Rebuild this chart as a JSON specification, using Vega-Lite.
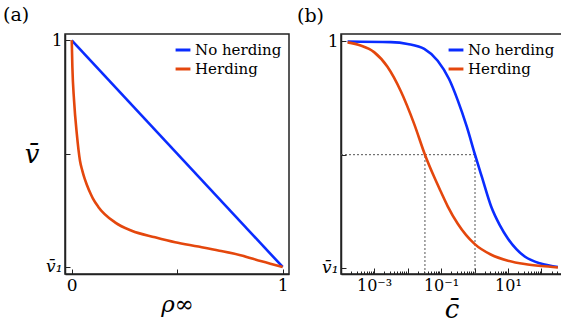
{
  "$schema": "https://vega.github.io/schema/vega-lite/v6.json",
  "background": "white",
  "padding": {"left": 2, "top": 5, "right": 2, "bottom": 0},
  "spacing": 6,
  "config": {
    "font": "DejaVu Serif",
    "view": {"stroke": "#222", "strokeWidth": 1.5},
    "axis": {"domainColor": "#222", "domainWidth": 1.5, "tickColor": "#222", "tickWidth": 1, "labelColor": "black", "labelFontSize": 17, "labelFont": "DejaVu Serif", "grid": false, "titleFont": "DejaVu Serif", "titleFontWeight": "normal", "titleColor": "black"},
    "legend": {"orient": "top-right", "offset": 7, "padding": 0, "rowPadding": 2, "symbolType": "stroke", "symbolStrokeWidth": 3, "symbolSize": 220, "labelFont": "DejaVu Serif", "labelFontSize": 15, "labelColor": "black", "title": null, "labelLimit": 200, "labelOffset": 3},
    "title": {"font": "DejaVu Serif", "fontSize": 19, "fontWeight": "normal", "color": "black", "anchor": "start", "frame": "group"}
  },
  "datasets": {
    "left": [
      {"series": "No herding", "rho": 0, "v": 1},
      {"series": "No herding", "rho": 1, "v": 0},
      {"series": "Herding", "rho": 0, "v": 1},
      {"series": "Herding", "rho": 0.003, "v": 0.881},
      {"series": "Herding", "rho": 0.011, "v": 0.734},
      {"series": "Herding", "rho": 0.024, "v": 0.587},
      {"series": "Herding", "rho": 0.039, "v": 0.469},
      {"series": "Herding", "rho": 0.05, "v": 0.425},
      {"series": "Herding", "rho": 0.06, "v": 0.393},
      {"series": "Herding", "rho": 0.071, "v": 0.364},
      {"series": "Herding", "rho": 0.09, "v": 0.322},
      {"series": "Herding", "rho": 0.1, "v": 0.303},
      {"series": "Herding", "rho": 0.126, "v": 0.265},
      {"series": "Herding", "rho": 0.205, "v": 0.197},
      {"series": "Herding", "rho": 0.284, "v": 0.16},
      {"series": "Herding", "rho": 0.395, "v": 0.131},
      {"series": "Herding", "rho": 0.49, "v": 0.109},
      {"series": "Herding", "rho": 0.6, "v": 0.09},
      {"series": "Herding", "rho": 0.7, "v": 0.072},
      {"series": "Herding", "rho": 0.8, "v": 0.052},
      {"series": "Herding", "rho": 0.9, "v": 0.025},
      {"series": "Herding", "rho": 1, "v": 0}
    ],
    "right": [
      {"series": "No herding", "c": 0.0001622, "v": 1.0},
      {"series": "No herding", "c": 0.003162, "v": 0.997},
      {"series": "No herding", "c": 0.01, "v": 0.989},
      {"series": "No herding", "c": 0.03162, "v": 0.967},
      {"series": "No herding", "c": 0.0794, "v": 0.915},
      {"series": "No herding", "c": 0.1738, "v": 0.834},
      {"series": "No herding", "c": 0.3162, "v": 0.74},
      {"series": "No herding", "c": 0.5848, "v": 0.625},
      {"series": "No herding", "c": 1.035, "v": 0.5},
      {"series": "No herding", "c": 1.641, "v": 0.404},
      {"series": "No herding", "c": 3.162, "v": 0.27},
      {"series": "No herding", "c": 5.623, "v": 0.19},
      {"series": "No herding", "c": 10, "v": 0.129},
      {"series": "No herding", "c": 17.78, "v": 0.083},
      {"series": "No herding", "c": 31.62, "v": 0.05},
      {"series": "No herding", "c": 100, "v": 0.018},
      {"series": "No herding", "c": 309, "v": 0.004},
      {"series": "Herding", "c": 0.0001622, "v": 0.996},
      {"series": "Herding", "c": 0.000398, "v": 0.982},
      {"series": "Herding", "c": 0.001, "v": 0.953},
      {"series": "Herding", "c": 0.002512, "v": 0.888},
      {"series": "Herding", "c": 0.00631, "v": 0.78},
      {"series": "Herding", "c": 0.01585, "v": 0.635},
      {"series": "Herding", "c": 0.03311, "v": 0.5},
      {"series": "Herding", "c": 0.0631, "v": 0.4},
      {"series": "Herding", "c": 0.1, "v": 0.335},
      {"series": "Herding", "c": 0.1585, "v": 0.272},
      {"series": "Herding", "c": 0.3162, "v": 0.195},
      {"series": "Herding", "c": 1, "v": 0.106},
      {"series": "Herding", "c": 3.162, "v": 0.058},
      {"series": "Herding", "c": 10, "v": 0.032},
      {"series": "Herding", "c": 31.62, "v": 0.017},
      {"series": "Herding", "c": 100, "v": 0.008},
      {"series": "Herding", "c": 309, "v": 0.002}
    ],
    "guides": [
      {"c": 0.000103, "c2": 1.035, "v": 0.5, "v2": 0.5},
      {"c": 0.03311, "c2": 0.03311, "v": -0.027, "v2": 0.5},
      {"c": 1.035, "c2": 1.035, "v": -0.027, "v2": 0.5}
    ]
  },
  "resolve": {"scale": {"color": "independent"}, "legend": {"color": "independent"}},
  "hconcat": [
    {
      "width": 224,
      "height": 240,
      "title": {"text": "(a)", "dx": -62, "offset": 6},
      "data": {"name": "left"},
      "mark": {"type": "line", "strokeWidth": 2.6, "interpolate": "monotone", "clip": true},
      "encoding": {
        "x": {"field": "rho", "type": "quantitative", "scale": {"domain": [-0.032, 1.03], "nice": false, "zero": false},
          "axis": {"values": [0, 0.5, 1], "tickSize": -5, "labelPadding": 8, "labelExpr": "datum.value == 0 ? '0' : datum.value == 1 ? '1' : ''", "title": "ρ∞", "titleFontSize": 23, "titleFontStyle": "italic", "titlePadding": 0}},
        "y": {"field": "v", "type": "quantitative", "scale": {"domain": [-0.031, 1.028], "nice": false, "zero": false},
          "axis": {"values": [0, 0.5, 1], "tickSize": -5, "labelPadding": 8, "labelExpr": "datum.value == 1 ? '1' : datum.value == 0 ? 'v̄₁' : ''", "labelFontStyle": {"condition": {"test": "datum.value == 0", "value": "italic"}, "value": "normal"}, "title": "v̄", "titleAngle": 0, "titleFontSize": 26, "titleFontStyle": "italic", "titleBaseline": "middle", "titlePadding": 14}},
        "color": {"field": "series", "type": "nominal", "scale": {"domain": ["No herding", "Herding"], "range": ["#0a2cff", "#e4470d"]}, "legend": {"orient": "top-right"}},
        "order": {"field": "rho", "type": "quantitative"}
      }
    },
    {
      "width": 221,
      "height": 240,
      "title": {"text": "(b)", "dx": -44, "offset": 6},
      "layer": [
        {
          "data": {"name": "guides"},
          "mark": {"type": "rule", "strokeDash": [2, 2], "strokeWidth": 1, "color": "#555"},
          "encoding": {
            "x": {"field": "c", "type": "quantitative"},
            "x2": {"field": "c2"},
            "y": {"field": "v", "type": "quantitative"},
            "y2": {"field": "v2"}
          }
        },
        {
          "data": {"name": "right"},
          "mark": {"type": "line", "strokeWidth": 2.6, "interpolate": "monotone", "clip": true},
          "encoding": {
            "x": {"field": "c", "type": "quantitative"},
            "y": {"field": "v", "type": "quantitative"},
            "color": {"field": "series", "type": "nominal", "scale": {"domain": ["No herding", "Herding"], "range": ["#0a2cff", "#e4470d"]}, "legend": {"orient": "top-right"}},
            "order": {"field": "c", "type": "quantitative"}
          }
        }
      ],
      "encoding": {
        "x": {"field": "c", "type": "quantitative", "scale": {"type": "log", "domain": [0.000103, 410], "nice": false},
          "axis": {"values": [0.0002, 0.0003, 0.0004, 0.0005, 0.0006, 0.0007, 0.0008, 0.0009, 0.001, 0.002, 0.003, 0.004, 0.005, 0.006, 0.007, 0.008, 0.009, 0.01, 0.02, 0.03, 0.04, 0.05, 0.06, 0.07, 0.08, 0.09, 0.1, 0.2, 0.3, 0.4, 0.5, 0.6, 0.7, 0.8, 0.9, 1, 2, 3, 4, 5, 6, 7, 8, 9, 10, 20, 30, 40, 50, 60, 70, 80, 90, 100, 200, 300, 400],
            "tickSize": {"condition": {"test": "abs(log(datum.value)/LN10 - round(log(datum.value)/LN10)) < 0.001", "value": -6}, "value": -3},
            "labelPadding": 9,
            "labelExpr": "abs(log(datum.value)/LN10 + 3) < 0.001 ? '10⁻³' : abs(log(datum.value)/LN10 + 1) < 0.001 ? '10⁻¹' : abs(log(datum.value)/LN10 - 1) < 0.001 ? '10¹' : ''",
            "labelFontSize": 16,
            "title": "c̄", "titleFontSize": 26, "titleFontStyle": "italic", "titlePadding": 3}},
        "y": {"field": "v", "type": "quantitative", "scale": {"domain": [-0.027, 1.033], "nice": false, "zero": false},
          "axis": {"values": [0, 0.5, 1], "tickSize": -5, "labelPadding": 8, "labelExpr": "datum.value == 1 ? '1' : datum.value == 0 ? 'v̄₁' : ''", "labelFontStyle": {"condition": {"test": "datum.value == 0", "value": "italic"}, "value": "normal"}, "title": null}}
      }
    }
  ]
}
